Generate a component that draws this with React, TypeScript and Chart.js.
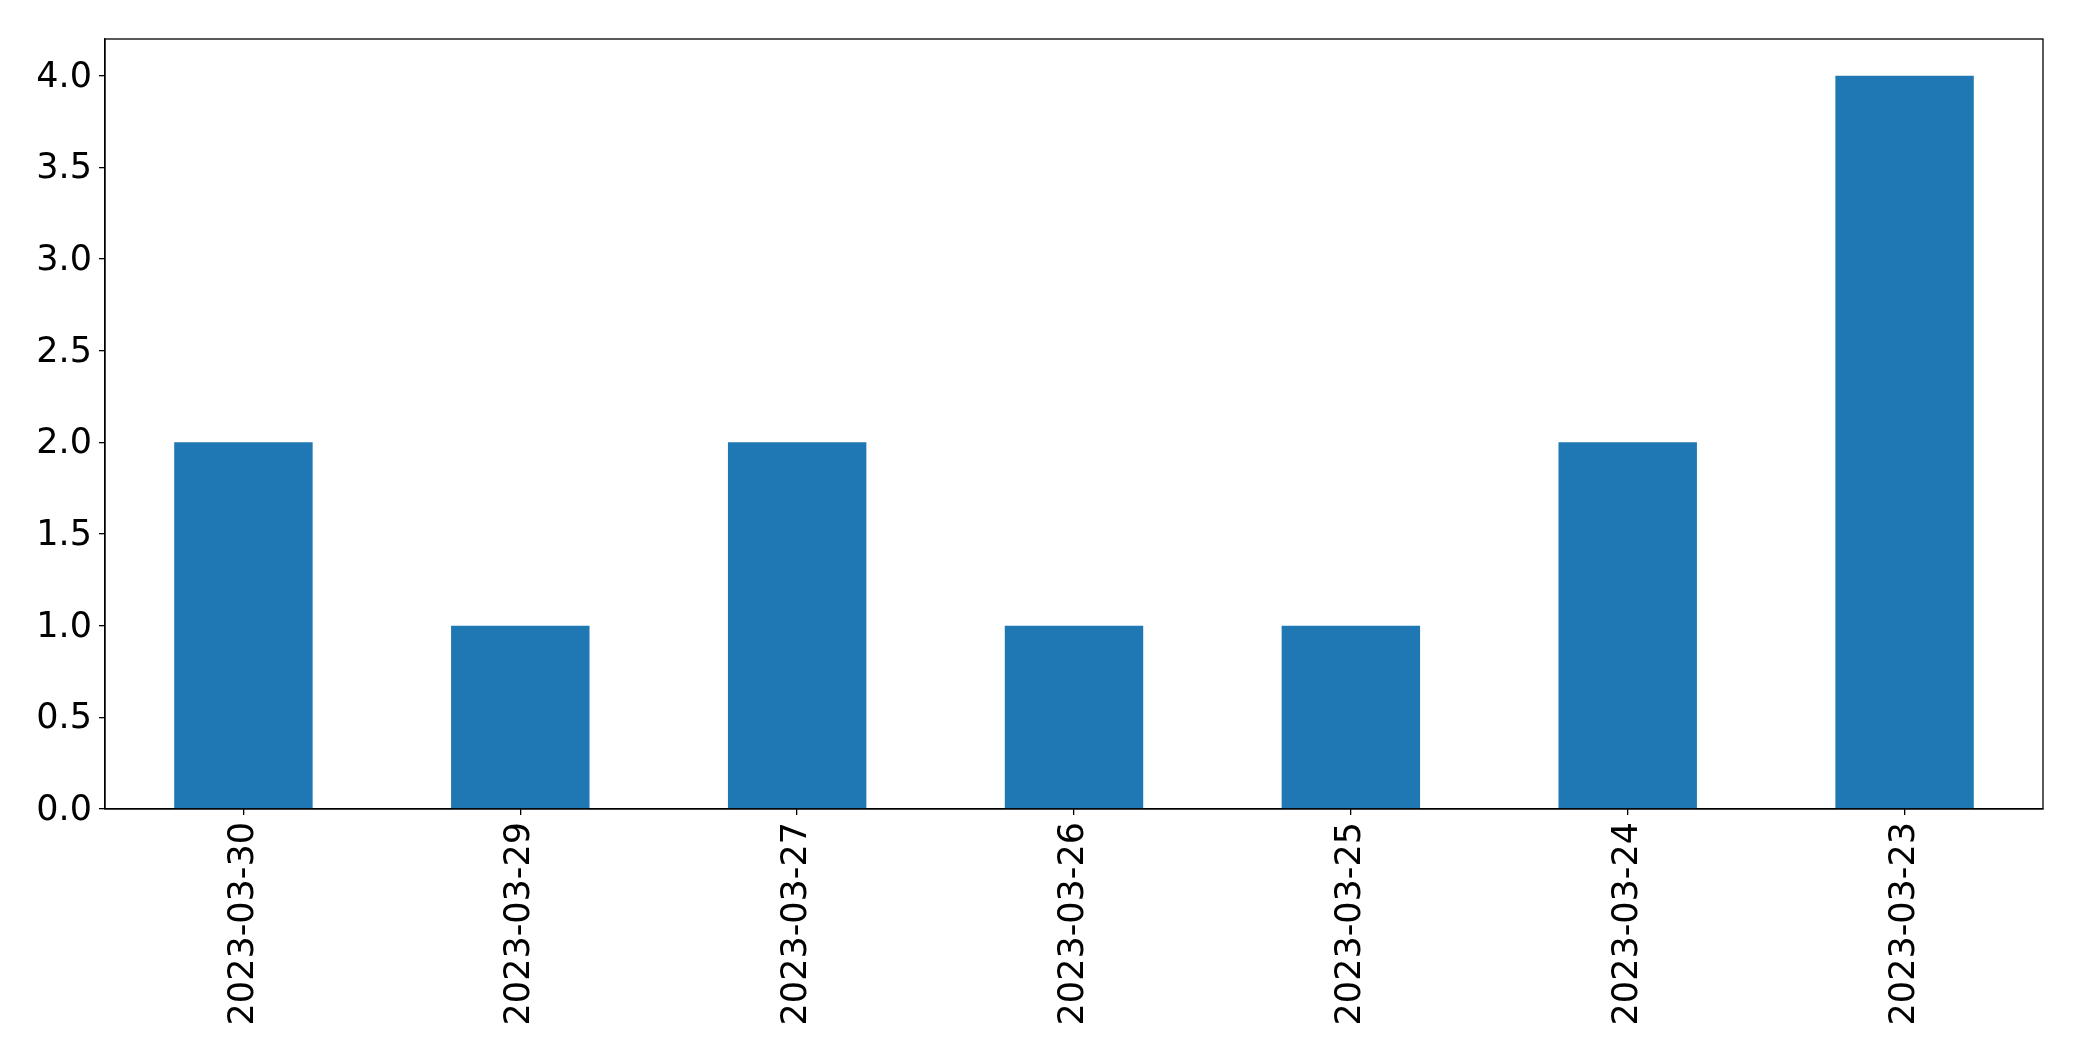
import React, { useEffect, useRef } from "react";
import { Chart, registerables } from "chart.js";

Chart.register(...registerables);

const categories = ["2023-03-30", "2023-03-29", "2023-03-27", "2023-03-26", "2023-03-25", "2023-03-24", "2023-03-23"];
const counts = [2, 1, 2, 1, 1, 2, 4];
const yTicks = [0, 0.5, 1.0, 1.5, 2.0, 2.5, 3.0, 3.5, 4.0];

const W = 2082;
const H = 1061;
const PLOT_LEFT = 105;
const PLOT_TOP = 39;
const PLOT_RIGHT = 2043;
const PLOT_BOTTOM = 809;

const frame = {
  id: "frame",
  afterDraw(chart: any) {
    const { ctx, chartArea } = chart;
    ctx.save();
    ctx.strokeStyle = "#000";
    ctx.lineWidth = 1.3;
    ctx.strokeRect(chartArea.left, chartArea.top, chartArea.right - chartArea.left, chartArea.bottom - chartArea.top);
    ctx.restore();
  },
};

export default function App() {
  const ref = useRef<HTMLCanvasElement | null>(null);
  useEffect(() => {
    if (!ref.current) return;
    const font = { family: "'DejaVu Sans'", size: 35 };
    const chart = new Chart(ref.current, {
      type: "bar",
      data: {
        labels: categories,
        datasets: [
          {
            data: counts,
            backgroundColor: "#1f77b4",
            borderWidth: 0,
            categoryPercentage: 1,
            barPercentage: 0.5,
          },
        ],
      },
      options: {
        responsive: false,
        animation: false,
        devicePixelRatio: 1,
        layout: { padding: { top: PLOT_TOP, right: W - PLOT_RIGHT, left: 0, bottom: 0 } },
        plugins: { legend: { display: false }, tooltip: { enabled: false } },
        scales: {
          x: {
            offset: true,
            grid: { display: true, drawOnChartArea: false, offset: false, color: "#000", tickLength: 6, tickWidth: 1.3, lineWidth: 1.3 },
            border: { display: true, color: "#000", width: 1.3 },
            ticks: { color: "#000", font, minRotation: 90, maxRotation: 90, autoSkip: false, padding: 7 },
            afterFit(scale: any) {
              scale.height = H - PLOT_BOTTOM;
            },
          },
          y: {
            min: 0,
            max: 4.2,
            grid: { display: true, drawOnChartArea: false, color: "#000", tickLength: 6, tickWidth: 1.3, lineWidth: 1.3 },
            border: { display: true, color: "#000", width: 1.3 },
            ticks: {
              color: "#000",
              font,
              padding: 7,
              labelOffset: 2,
              callback: (v: any) => Number(v).toFixed(1),
            },
            afterBuildTicks(scale: any) {
              scale.ticks = yTicks.map((v) => ({ value: v }));
            },
            afterFit(scale: any) {
              scale.width = PLOT_LEFT;
            },
          },
        },
      },
      plugins: [frame],
    });
    return () => chart.destroy();
  }, []);
  return (
    <div style={{ position: "absolute", left: 0, top: 0, width: W, height: H, background: "#fff" }}>
      <canvas ref={ref} width={W} height={H} style={{ display: "block" }} />
    </div>
  );
}
